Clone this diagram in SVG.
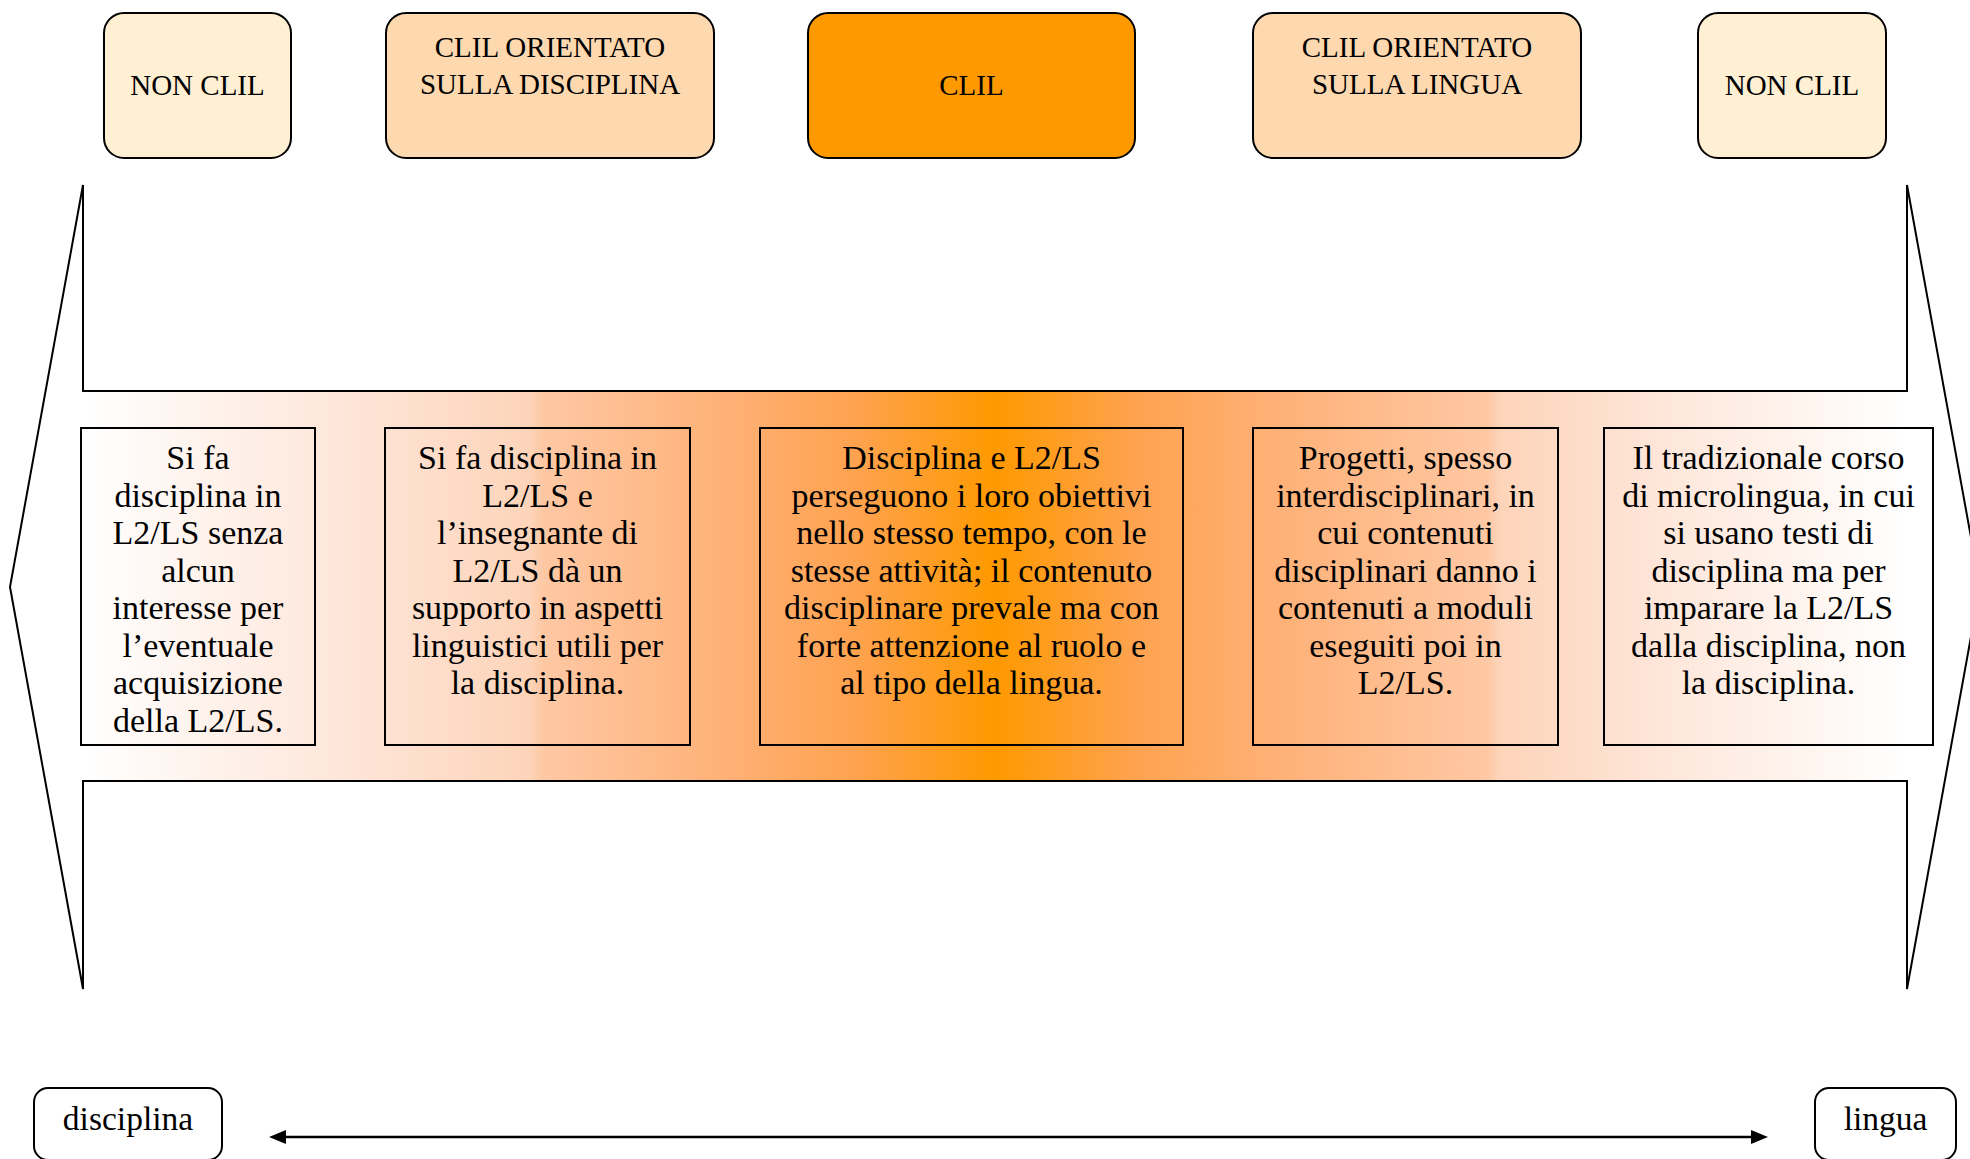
<svg xmlns="http://www.w3.org/2000/svg" width="1970" height="1159" viewBox="0 0 1970 1159">
<style>
.t{font-family:"Liberation Serif","Times New Roman",serif;fill:#000;text-anchor:middle}
.title{font-size:29px}
.body{font-size:34px}
.lbl{font-size:33.5px}
.cat{stroke:#000;stroke-width:2}
.inner{fill:none;stroke:#000;stroke-width:2}
.end{fill:#fff;stroke:#000;stroke-width:2}
</style>
<defs>
<linearGradient id="grad" gradientUnits="userSpaceOnUse" x1="83" y1="0" x2="1907" y2="0">
<stop offset="0" stop-color="#FFFFFF"/>
<stop offset="0.06" stop-color="#FEF4EE"/>
<stop offset="0.147" stop-color="#FEE5D8"/>
<stop offset="0.245" stop-color="#FDD4B9"/>
<stop offset="0.252" stop-color="#FEC8A4"/>
<stop offset="0.355" stop-color="#FEB075"/>
<stop offset="0.425" stop-color="#FEA24E"/>
<stop offset="0.5" stop-color="#FF9900"/>
<stop offset="0.575" stop-color="#FEA24E"/>
<stop offset="0.65" stop-color="#FEB075"/>
<stop offset="0.77" stop-color="#FEC8A4"/>
<stop offset="0.777" stop-color="#FDD4B9"/>
<stop offset="0.86" stop-color="#FEE5D8"/>
<stop offset="0.94" stop-color="#FEF4EE"/>
<stop offset="1" stop-color="#FFFFFF"/>
</linearGradient>
<marker id="ah" markerWidth="18" markerHeight="16" refX="6" refY="8" orient="auto-start-reverse" markerUnits="userSpaceOnUse">
<path d="M0,1 L17,8 L0,15 Z" fill="#000"/>
</marker>
</defs>
<rect width="1970" height="1159" fill="#fff"/>

<g id="band">
<polygon points="10,587 83,185 83,391 1907,391 1907,185 1980,587 1907,989 1907,781 83,781 83,989" fill="url(#grad)" stroke="#000" stroke-width="2" stroke-linejoin="miter"/>
</g>

<g id="cat-nonclil-left">
<rect class="cat" x="104" y="13" width="187" height="145" rx="20" fill="#FFEFD3"/>
<text class="t title" x="197.5" y="95">NON CLIL</text>
</g>
<g id="cat-clil-disciplina">
<rect class="cat" x="386" y="13" width="328" height="145" rx="20" fill="#FED8AF"/>
<text class="t title" x="550" y="57">CLIL ORIENTATO</text>
<text class="t title" x="550" y="94">SULLA DISCIPLINA</text>
</g>
<g id="cat-clil">
<rect class="cat" x="808" y="13" width="327" height="145" rx="20" fill="#FF9900"/>
<text class="t title" x="971.5" y="95">CLIL</text>
</g>
<g id="cat-clil-lingua">
<rect class="cat" x="1253" y="13" width="328" height="145" rx="20" fill="#FED8AF"/>
<text class="t title" x="1417" y="57">CLIL ORIENTATO</text>
<text class="t title" x="1417" y="94">SULLA LINGUA</text>
</g>
<g id="cat-nonclil-right">
<rect class="cat" x="1698" y="13" width="188" height="145" rx="20" fill="#FFEFD3"/>
<text class="t title" x="1792" y="95">NON CLIL</text>
</g>

<g id="desc-1">
<rect class="inner" x="81" y="428" width="234" height="317"/>
<text class="t body" x="198" y="469">Si fa</text>
<text class="t body" x="198" y="506.5">disciplina in</text>
<text class="t body" x="198" y="544">L2/LS senza</text>
<text class="t body" x="198" y="581.5">alcun</text>
<text class="t body" x="198" y="619">interesse per</text>
<text class="t body" x="198" y="656.5">l’eventuale</text>
<text class="t body" x="198" y="694">acquisizione</text>
<text class="t body" x="198" y="731.5">della L2/LS.</text>
</g>
<g id="desc-2">
<rect class="inner" x="385" y="428" width="305" height="317"/>
<text class="t body" x="537.5" y="469">Si fa disciplina in</text>
<text class="t body" x="537.5" y="506.5">L2/LS e</text>
<text class="t body" x="537.5" y="544">l’insegnante di</text>
<text class="t body" x="537.5" y="581.5">L2/LS dà un</text>
<text class="t body" x="537.5" y="619">supporto in aspetti</text>
<text class="t body" x="537.5" y="656.5">linguistici utili per</text>
<text class="t body" x="537.5" y="694">la disciplina.</text>
</g>
<g id="desc-3">
<rect class="inner" x="760" y="428" width="423" height="317"/>
<text class="t body" x="971.5" y="469">Disciplina e L2/LS</text>
<text class="t body" x="971.5" y="506.5">perseguono i loro obiettivi</text>
<text class="t body" x="971.5" y="544">nello stesso tempo, con le</text>
<text class="t body" x="971.5" y="581.5">stesse attività; il contenuto</text>
<text class="t body" x="971.5" y="619">disciplinare prevale ma con</text>
<text class="t body" x="971.5" y="656.5">forte attenzione al ruolo e</text>
<text class="t body" x="971.5" y="694">al tipo della lingua.</text>
</g>
<g id="desc-4">
<rect class="inner" x="1253" y="428" width="305" height="317"/>
<text class="t body" x="1405.5" y="469">Progetti, spesso</text>
<text class="t body" x="1405.5" y="506.5">interdisciplinari, in</text>
<text class="t body" x="1405.5" y="544">cui contenuti</text>
<text class="t body" x="1405.5" y="581.5">disciplinari danno i</text>
<text class="t body" x="1405.5" y="619">contenuti a moduli</text>
<text class="t body" x="1405.5" y="656.5">eseguiti poi in</text>
<text class="t body" x="1405.5" y="694">L2/LS.</text>
</g>
<g id="desc-5">
<rect class="inner" x="1604" y="428" width="329" height="317"/>
<text class="t body" x="1768.5" y="469">Il tradizionale corso</text>
<text class="t body" x="1768.5" y="506.5">di microlingua, in cui</text>
<text class="t body" x="1768.5" y="544">si usano testi di</text>
<text class="t body" x="1768.5" y="581.5">disciplina ma per</text>
<text class="t body" x="1768.5" y="619">imparare la L2/LS</text>
<text class="t body" x="1768.5" y="656.5">dalla disciplina, non</text>
<text class="t body" x="1768.5" y="694">la disciplina.</text>
</g>

<g id="end-disciplina">
<rect class="end" x="34" y="1088" width="188" height="72" rx="14"/>
<text class="t lbl" x="128" y="1130">disciplina</text>
</g>
<g id="end-lingua">
<rect class="end" x="1815" y="1088" width="141" height="72" rx="14"/>
<text class="t lbl" x="1885.5" y="1130">lingua</text>
</g>

<g id="connectors">
<line x1="280" y1="1137" x2="1757" y2="1137" stroke="#000" stroke-width="2.5" marker-start="url(#ah)" marker-end="url(#ah)"/>
</g>
</svg>
